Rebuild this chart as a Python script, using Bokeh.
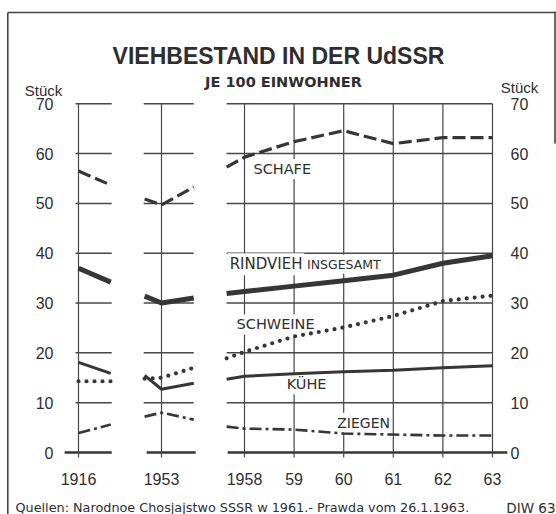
from bokeh.plotting import figure
from bokeh.models import Range1d, Label
from bokeh.core.properties import value
from bokeh.embed import file_html
from bokeh.resources import INLINE

# ---------------- data ----------------
title_text = "VIEHBESTAND IN DER UdSSR"
subtitle_text = "JE 100 EINWOHNER"
unit_text = "Stück"
source_text = "Quellen: Narodnoe Chosjajstwo SSSR w 1961.- Prawda vom 26.1.1963."
credit_text = "DIW 63"

y_ticks = [0, 10, 20, 30, 40, 50, 60, 70]
y_tick_labels = ["0", "10", "20", "30", "40", "50", "60", "70"]

# panel 1 (1916) - short stub
p1_years = [1916, 1916.65]
p1_tick_years = [1916]
p1_tick_labels = ["1916"]
schafe_1916 = [56.5, 53.7]
rindvieh_1916 = [37.0, 34.2]
kuehe_1916 = [18.1, 15.9]
schweine_1916 = [14.3, 14.3]
ziegen_1916 = [3.9, 5.6]

# panel 2 (1953) - short stub
p2_years = [1952.66, 1953, 1953.65]
p2_tick_years = [1953]
p2_tick_labels = ["1953"]
schafe_1953 = [50.9, 49.7, 53.3]
rindvieh_1953 = [31.4, 30.0, 31.0]
kuehe_1953 = [15.5, 12.7, 13.9]
schweine_1953 = [14.8, 15.0, 17.0]
ziegen_1953 = [7.2, 8.0, 6.6]

# panel 3 (1958-1963)
p3_years = [1957.64, 1958, 1959, 1960, 1961, 1962, 1963]
p3_tick_years = [1958, 1959, 1960, 1961, 1962, 1963]
p3_tick_labels = ["1958", "59", "60", "61", "62", "63"]
schafe_5863 = [57.3, 59.3, 62.4, 64.6, 62.0, 63.2, 63.2]
rindvieh_5863 = [31.9, 32.3, 33.4, 34.5, 35.6, 38.0, 39.5]
kuehe_5863 = [14.7, 15.3, 15.8, 16.2, 16.5, 17.0, 17.4]
schweine_5863 = [18.9, 20.2, 23.3, 25.1, 27.4, 30.4, 31.5]
ziegen_5863 = [5.2, 4.8, 4.6, 3.8, 3.6, 3.4, 3.4]

# ---------------- layout (page pixels) ----------------
W, H = 556, 514
PX_YEAR = 49.6
Y0_PX, Y70_PX = 452.0, 103.3
PX_UNIT = (Y0_PX - Y70_PX) / 70.0
y_start = -(H - Y0_PX) / PX_UNIT
y_end = 70 + Y70_PX / PX_UNIT


def xr(anchor_year, anchor_px):
    s = anchor_year - anchor_px / PX_YEAR
    return Range1d(s, s + W / PX_YEAR)


INK = "#363636"
GRID = "#474747"
TXT = "#2e2e2e"
TICK_FONT = "Liberation Sans"
LAB_FONT = "DejaVu Sans"

p = figure(width=W, height=H, output_backend="svg", toolbar_location=None,
           x_range=xr(1958, 244), y_range=Range1d(y_start, y_end),
           x_axis_location=None, y_axis_location=None,
           min_border=0)
p.extra_x_ranges = {"p1": xr(1916, 78), "p2": xr(1953, 161),
                    "px": Range1d(0, W)}
p.extra_y_ranges = {"py": Range1d(H, 0)}
p.xgrid.visible = False
p.ygrid.visible = False
p.outline_line_color = None
p.background_fill_color = "white"
p.border_fill_color = "white"

# ---------------- grid per panel ----------------
panels = [
    ("p1", (1915.94, 1916.67), (1915.72, 1916.67), p1_tick_years),
    ("p2", (1952.64, 1953.65), (1952.70, 1953.69), p2_tick_years),
    ("default", (1957.64, 1963.0), (1957.66, 1963.30), p3_tick_years),
]
hy = [t for t in y_ticks if t != 0]
for rname, (h0, h1), (z0, z1), vt in panels:
    p.segment(x0=[h0] * len(hy), y0=hy, x1=[h1] * len(hy), y1=hy,
              x_range_name=rname, line_color=GRID, line_width=1.5, level="image")
    p.segment(x0=[z0], y0=[0], x1=[z1], y1=[0],
              x_range_name=rname, line_color=INK, line_width=2.6, level="image")
    p.segment(x0=vt, y0=[-1.0] * len(vt), x1=vt, y1=[70] * len(vt),
              x_range_name=rname, line_color=GRID, line_width=1.2, level="image")

# ---------------- data lines ----------------
series = [
    (p1_years, "p1", schafe_1916, rindvieh_1916, kuehe_1916, schweine_1916, ziegen_1916),
    (p2_years, "p2", schafe_1953, rindvieh_1953, kuehe_1953, schweine_1953, ziegen_1953),
    (p3_years, "default", schafe_5863, rindvieh_5863, kuehe_5863, schweine_5863, ziegen_5863),
]
for xs, rname, sch, rin, kue, swe, zie in series:
    p.line(xs, sch, x_range_name=rname, line_color=INK, line_width=3.2,
           line_dash="13 5")
    p.line(xs, rin, x_range_name=rname, line_color=INK, line_width=5.0)
    p.line(xs, kue, x_range_name=rname, line_color=INK, line_width=3.0)
    p.line(xs, swe, x_range_name=rname, line_color=INK, line_width=4.2,
           line_dash="0 8", line_cap="round")
    p.line(xs, zie, x_range_name=rname, line_color=INK, line_width=2.6,
           line_dash="12 4 3 4")

# ---------------- tick labels ----------------
tick_style = dict(text_font=value(TICK_FONT), text_font_size="16px",
                  text_color=TXT)
# y axis, left and right
p.text(x=[53] * len(y_ticks), y=y_ticks, text=y_tick_labels, x_range_name="px",
       text_align="right", text_baseline="middle", **tick_style)
p.text(x=[510] * len(y_ticks), y=y_ticks, text=y_tick_labels, x_range_name="px",
       text_align="left", text_baseline="middle", **tick_style)
# x axis, each panel on its own scale
for rname, yrs, labs in [("p1", p1_tick_years, p1_tick_labels),
                         ("p2", p2_tick_years, p2_tick_labels),
                         ("default", p3_tick_years, p3_tick_labels)]:
    p.text(x=yrs, y=[478] * len(yrs), text=labs, x_range_name=rname,
           y_range_name="py", text_align="center", text_baseline="alphabetic",
           **tick_style)

# ---------------- series labels ----------------
def series_label(x, y, text, size):
    p.add_layout(Label(x=x, y=y, text=text, text_font=LAB_FONT,
                       text_font_size=size, text_color=TXT, text_align="left",
                       text_baseline="middle", background_fill_color="white",
                       padding=2, level="underlay"))


series_label(1958.14, 56.9, "SCHAFE", "14.5px")
series_label(1957.66, 37.8, "RINDVIEH", "15px")
series_label(1959.22, 37.8, "INSGESAMT", "12.5px")
series_label(1957.80, 25.7, "SCHWEINE", "14.5px")
series_label(1958.81, 13.7, "KÜHE", "14.5px")
series_label(1959.83, 5.95, "ZIEGEN", "14px")

# ---------------- titles / notes (page px) ----------------
def page_text(x, y, text, font, size, style="normal", align="left"):
    p.text(x=[x], y=[y], text=[text], x_range_name="px", y_range_name="py",
           text_font=value(font), text_font_size=size, text_font_style=style,
           text_color=TXT, text_align=align, text_baseline="alphabetic")


page_text(278, 55, title_text, TICK_FONT, "23px", style="bold", align="center")
page_text(283, 81.5, subtitle_text, LAB_FONT, "14.5px", style="bold", align="center")
page_text(43, 90, unit_text, TICK_FONT, "15px", align="center")
page_text(519, 87, unit_text, TICK_FONT, "15px", align="center")
page_text(15, 507, source_text, LAB_FONT, "12.8px")
page_text(555, 507, credit_text, LAB_FONT, "13.5px", align="right")

# frame of the whole picture
p.segment(x0=[7.3, 7.3, 554.5], y0=[12, 12, 11], x1=[7.3, 555, 554.5],
          y1=[514, 12, 143], x_range_name="px", y_range_name="py",
          line_color="#444444", line_width=1.6)

open("out.html", "w").write(file_html(p, INLINE))
